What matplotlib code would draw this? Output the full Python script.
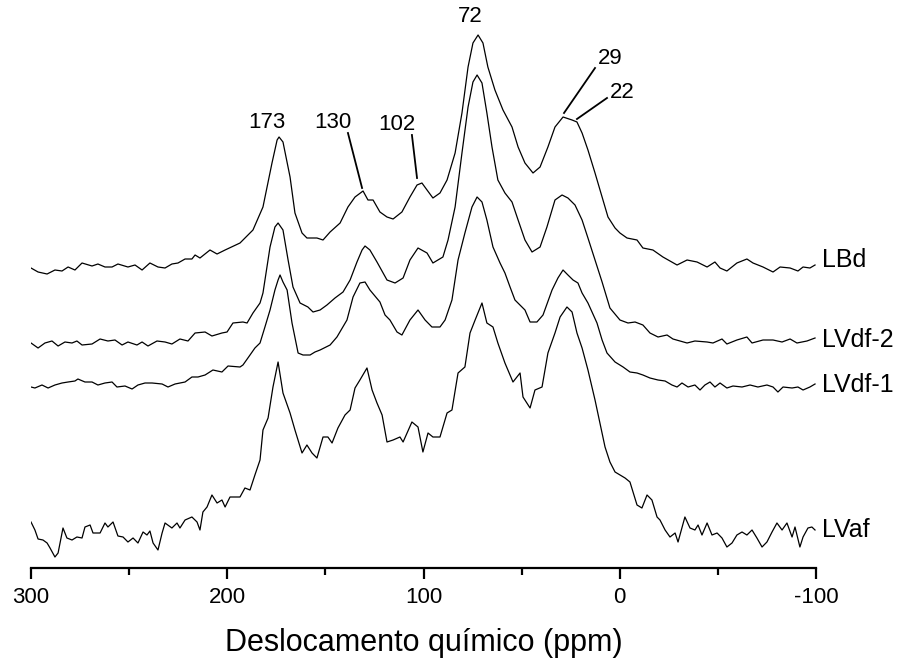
import matplotlib
matplotlib.use("Agg")
import matplotlib.pyplot as plt
import numpy as np

plt.rcParams['font.family'] = ['Liberation Sans', 'DejaVu Sans']
plt.rcParams['axes.unicode_minus'] = False

# chemical shift (ppm) and intensity (a.u., offset stack)
lbd_ppm = [300, 296.4, 291.8, 287.8, 284.2, 281.1, 277.6, 274.0, 268.9, 265.9, 262.3, 258.7,
           255.7, 250.6, 247.0, 243.4, 239.4, 235.3, 231.7, 228.2, 225.1, 221.5, 218.0, 216.4,
           213.9, 208.8, 205.2, 201.1, 193.5, 186.9, 181.8, 177.2, 174.6, 173.6, 171.6, 168.0,
           165.5, 161.9, 159.4, 154.3, 151.2, 147.6, 142.5, 138.5, 134.9, 130.8, 128.3, 125.7,
           122.2, 118.6, 115.5, 111.0, 106.9, 103.3, 100.8, 98.2, 95.2, 91.6, 88.0, 83.9, 80.4,
           77.3, 74.8, 72.2, 69.7, 67.2, 63.6, 59.5, 54.9, 51.8, 48.3, 44.2, 40.6, 36.6, 33.0,
           28.9, 24.3, 21.8, 19.2, 16.2, 12.6, 9.0, 6.0, 2.4, -0.1, -3.7, -8.8, -11.8, -16.9,
           -22.0, -29.2, -34.3, -39.4, -44.5, -48.5, -51.1, -54.6, -59.7, -64.8, -67.9, -73.0,
           -78.1, -81.7, -86.8, -90.8, -93.4, -96.9, -99.5]
lbd_int = [300, 296, 294, 298, 297, 301, 298, 305, 302, 304, 301, 301,
           304, 301, 303, 298, 305, 301, 300, 304, 305, 309, 309, 313,
           310, 318, 314, 318, 325, 338, 361, 405, 428, 431, 426, 391,
           355, 335, 330, 330, 328, 336, 345, 361, 371, 377, 368, 368,
           356, 351, 349, 356, 371, 383, 385, 378, 370, 375, 388, 415, 455,
           501, 525, 533, 525, 501, 478, 458, 441, 421, 405, 395, 401, 421, 441,
           451, 448, 446, 435, 418, 395, 371, 351, 340, 335, 330, 328, 320, 318,
           311, 303, 308, 306, 301, 306, 300, 297, 305, 309, 305, 301,
           296, 301, 300, 297, 301, 300, 303]

lvdf2_ppm = [300, 296.4, 292.9, 289.3, 286.2, 282.7, 279.1, 276.6, 274.0, 268.9, 264.8, 260.8,
             257.2, 253.6, 250.6, 246.0, 243.4, 240.4, 235.8, 231.7, 228.2, 224.1, 220.0, 216.4,
             211.3, 207.8, 202.7, 200.1, 197.1, 192.0, 189.9, 186.9, 183.3, 181.8, 178.2, 175.7,
             174.1, 171.6, 169.0, 166.5, 162.9, 158.9, 156.3, 152.7, 149.2, 145.1, 141.0, 137.4,
             133.9, 131.3, 129.8, 127.3, 123.7, 118.6, 114.5, 110.4, 106.9, 102.8, 98.2, 95.2,
             90.1, 87.5, 83.9, 80.4, 77.3, 74.8, 72.7, 70.2, 67.7, 65.1, 62.1, 58.5, 54.9, 51.8,
             48.3, 44.7, 40.6, 37.1, 33.0, 29.4, 26.4, 22.8, 19.2, 16.2, 12.6, 9.0, 5.0, -0.1,
             -4.2, -7.8, -11.8, -15.4, -19.5, -24.1, -27.1, -34.3, -38.3, -44.5, -47.5, -52.1,
             -54.6, -59.7, -64.8, -67.4, -73.0, -78.1, -82.7, -86.8, -90.3, -95.4, -99.5]
lvdf2_int = [225, 220, 225, 227, 222, 226, 225, 227, 223, 224, 229, 227,
             228, 223, 226, 223, 226, 222, 227, 226, 224, 229, 227, 235,
             236, 232, 235, 236, 245, 246, 245, 255, 265, 275, 321, 341,
             345, 338, 308, 281, 265, 261, 256, 258, 263, 270, 276, 288,
             306, 318, 322, 318, 306, 288, 285, 290, 308, 320, 315, 305,
             311, 328, 361, 415, 461, 486, 493, 485, 455, 421, 388, 375, 366, 348,
             328, 316, 321, 341, 368, 373, 370, 363, 348, 330, 308, 286, 260, 248,
             245, 246, 243, 235, 231, 233, 229, 225, 227, 226, 225, 229,
             224, 228, 231, 225, 228, 228, 226, 229, 225, 227, 230]

lvdf1_ppm = [300, 298.0, 294.4, 291.3, 287.8, 284.2, 281.1, 277.6, 276.1, 272.5, 268.9, 265.9,
             262.3, 258.7, 256.2, 252.1, 248.5, 245.5, 241.9, 238.3, 233.2, 230.2, 226.6, 221.5,
             218.0, 214.9, 211.3, 207.3, 202.7, 199.6, 193.5, 192.0, 188.4, 185.9, 183.3, 180.8,
             178.2, 175.7, 174.1, 173.1, 171.6, 169.5, 167.0, 163.9, 161.4, 157.8, 155.3, 152.7,
             147.6, 144.1, 139.0, 135.9, 132.4, 129.8, 127.3, 122.2, 119.6, 117.1, 113.5, 111.0,
             106.9, 102.8, 99.2, 95.7, 91.6, 89.0, 85.5, 82.4, 78.9, 75.3, 72.7, 70.2, 67.7,
             64.6, 61.0, 58.5, 55.9, 53.4, 48.3, 45.7, 42.2, 39.1, 34.5, 31.5, 28.9, 26.4, 23.8,
             21.3, 19.2, 16.2, 11.6, 9.0, 6.5, 2.4, -1.7, -5.2, -8.8, -11.8, -15.4, -19.5, -23.1,
             -26.6, -29.2, -31.7, -34.8, -38.3, -40.9, -43.4, -46.0, -48.5, -51.1, -54.6, -57.7,
             -62.3, -66.4, -70.4, -75.0, -78.1, -80.6, -83.2, -87.8, -90.8, -93.4, -96.9, -99.5]
lvdf1_int = [181, 180, 183, 180, 183, 185, 186, 187, 189, 186, 186, 183,
             185, 186, 181, 182, 179, 183, 185, 185, 184, 181, 184, 186,
             191, 191, 193, 198, 196, 202, 201, 203, 213, 220, 225, 241,
             258, 278, 288, 293, 286, 278, 245, 215, 213, 213, 216, 218,
             223, 231, 248, 271, 285, 286, 278, 266, 253, 248, 236, 233,
             248, 258, 248, 241, 241, 248, 268, 308, 335, 361, 371, 366, 348,
             321, 305, 295, 281, 268, 258, 246, 246, 253, 278, 290, 298, 293, 288,
             285, 275, 265, 245, 228, 215, 206, 201, 196, 195, 193, 190, 188, 187,
             183, 181, 185, 181, 183, 178, 183, 186, 181, 185, 180, 182,
             181, 183, 181, 183, 181, 176, 181, 180, 181, 178, 181, 184]

lvaf_ppm = [300, 298.0, 296.4, 293.9, 291.8, 290.3, 287.8, 286.2, 283.7, 281.7, 279.1, 276.6,
            274.0, 272.5, 269.9, 268.4, 264.8, 262.3, 260.8, 258.2, 255.7, 253.1, 250.6, 248.0,
            245.5, 242.9, 240.9, 239.4, 237.8, 235.3, 233.2, 231.7, 228.2, 225.6, 224.1, 221.5,
            218.0, 215.4, 213.9, 212.4, 210.3, 207.8, 205.2, 202.7, 201.1, 198.6, 193.5, 191.0,
            188.4, 185.9, 183.3, 181.8, 179.2, 176.7, 174.1, 171.6, 168.0, 165.5, 161.9, 159.4,
            156.8, 154.3, 151.2, 148.7, 146.6, 143.6, 140.0, 137.4, 134.9, 132.4, 128.8, 126.2,
            123.7, 121.1, 118.6, 115.5, 112.0, 110.4, 105.9, 102.8, 100.3, 97.7, 95.2, 91.6,
            88.0, 85.5, 82.4, 78.9, 76.3, 73.7, 70.2, 67.7, 64.6, 62.1, 58.5, 54.4, 50.8, 49.3,
            45.7, 43.2, 39.6, 36.6, 33.0, 30.4, 26.9, 24.3, 21.8, 19.2, 16.2, 12.6, 10.1, 7.5,
            5.0, 2.4, -0.1, -2.7, -5.2, -8.8, -11.3, -13.9, -16.4, -19.0, -20.5, -23.1, -25.6,
            -28.2, -29.7, -33.2, -35.8, -38.3, -39.9, -41.9, -44.5, -47.0, -49.6, -52.1, -54.6,
            -57.2, -59.7, -62.3, -64.8, -67.4, -69.9, -72.5, -75.0, -77.6, -80.1, -82.7, -85.2,
            -87.8, -89.3, -91.8, -93.4, -95.9, -97.9, -99.5]
lvaf_int = [46, 38, 29, 28, 25, 20, 11, 15, 40, 30, 28, 31,
            30, 41, 43, 35, 35, 45, 41, 46, 32, 31, 26, 30,
            25, 36, 33, 37, 25, 18, 35, 45, 40, 45, 40, 48,
            51, 46, 38, 56, 61, 73, 65, 68, 61, 71, 71, 80,
            78, 93, 108, 138, 150, 181, 206, 175, 155, 138, 115, 123,
            115, 110, 131, 131, 125, 140, 153, 158, 180, 188, 200, 178,
            165, 153, 126, 128, 131, 126, 146, 141, 116, 135, 131, 131,
            155, 158, 195, 201, 235, 248, 265, 245, 241, 225, 205, 186, 195, 171,
            160, 178, 181, 215, 235, 251, 261, 256, 235, 220, 198, 168, 145, 121,
            106, 96, 93, 90, 86, 63, 60, 73, 68, 51, 48, 38, 31,
            35, 26, 51, 40, 38, 43, 33, 45, 33, 35, 30, 21,
            25, 33, 36, 33, 38, 30, 21, 26, 36, 45, 38, 45,
            31, 41, 21, 31, 40, 41, 38]

names = ['LBd', 'LVdf-2', 'LVdf-1', 'LVaf']
name_y = [308, 228, 183, 38]

peaks = ['173', '130', '102', '72', '29', '22']
peak_xy = [(179.7, 446), (146.1, 446), (113.5, 444), (76.3, 551), (5.0, 510), (-1.2, 476)]
# leader lines for some labels: (label end) -> (peak)
leaders = {'130': ((138.5, 435), (131.3, 380)),
           '102': ((105.9, 433), (103.3, 390)),
           '29': ((12.6, 500), (28.4, 455)),
           '22': ((6.5, 470), (21.8, 449))}

fig = plt.figure(figsize=(9.1, 6.63), dpi=100)
ax = fig.add_axes([31/910, 1 - 568/663, 785/910, 568/663])

for xs, ys in [(lbd_ppm, lbd_int), (lvdf2_ppm, lvdf2_int), (lvdf1_ppm, lvdf1_int), (lvaf_ppm, lvaf_int)]:
    ax.plot(xs, ys, color='black', lw=0.9)

for n, y in zip(names, name_y):
    ax.text(-103, y, n, fontsize=18, ha='left', va='center', clip_on=False)

for p, (x, y) in zip(peaks, peak_xy):
    ax.text(x, y, p, fontsize=16, ha='center', va='center')
    if p in leaders:
        (x0, y0), (x1, y1) = leaders[p]
        ax.plot([x0, x1], [y0, y1], color='black', lw=1.3)

ax.set_xlim(300, -100)
ax.set_ylim(0, 568)
ax.spines['top'].set_visible(False)
ax.spines['right'].set_visible(False)
ax.spines['left'].set_visible(False)
ax.spines['bottom'].set_linewidth(1.6)
ax.set_yticks([])
ax.set_xticks([300, 200, 100, 0, -100])
ax.set_xticks([250, 150, 50, -50], minor=True)
ax.tick_params(axis='x', which='major', length=8, width=1.6, labelsize=16, pad=6)
ax.tick_params(axis='x', which='minor', length=5, width=1.6)
ax.set_xlabel('Deslocamento químico (ppm)', fontsize=22, labelpad=14)

fig.savefig('out.png', dpi=100)
